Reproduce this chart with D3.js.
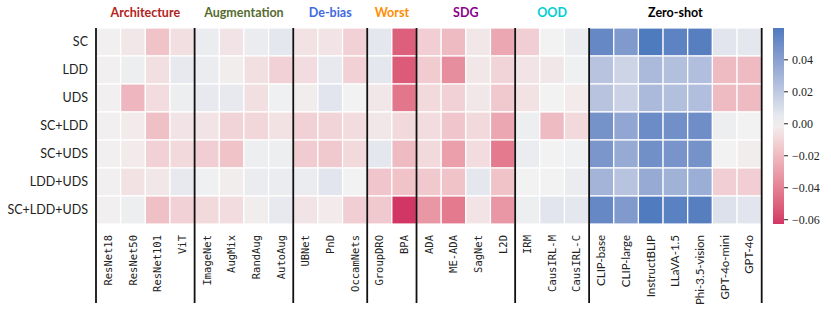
<!DOCTYPE html>
<html>
<head>
    <meta charset="utf-8">
    <title>D3 Heatmap</title>
    <script src="https://d3js.org/d3.v7.min.js"></script>
    <style>
        body { margin: 0; background: #fff; }
        .row-label { font-family: Lato, "Open Sans", sans-serif; font-size: 12.5px; fill: #222; }
        .col-label { font-family: "DejaVu Sans Mono", monospace; font-size: 10.5px; fill: #222; }
        .col-label.sans { font-family: Lato, "Open Sans", sans-serif; font-size: 11.5px; }
        .group-title { font-family: Lato, "Open Sans", sans-serif; font-size: 12.5px; font-weight: bold; }
        .cbar text { font-family: "Liberation Serif", serif; font-size: 12px; fill: #222; }
        .cbar line { stroke: #222; }
    </style>
</head>
<body>
<svg width="831" height="312"></svg>
<script>
    // rows and columns
    var rows = ["SC", "LDD", "UDS", "SC+LDD", "SC+UDS", "LDD+UDS", "SC+LDD+UDS"];
    var methods = ["ResNet18", "ResNet50", "ResNet101", "ViT",
                   "ImageNet", "AugMix", "RandAug", "AutoAug",
                   "UBNet", "PnD", "OccamNets",
                   "GroupDRO", "BPA",
                   "ADA", "ME-ADA", "SagNet", "L2D",
                   "IRM", "CausIRL-M", "CausIRL-C",
                   "CLIP-base", "CLIP-large", "InstructBLIP", "LLaVA-1.5", "Phi-3.5-vision", "GPT-4o-mini", "GPT-4o"];
    var groups = ["Architecture", "Augmentation", "De-bias", "Worst", "SDG", "OOD", "Zero-shot"];
    var groupSizes = [4, 4, 3, 2, 4, 3, 7];
    var groupColors = ["firebrick", "darkolivegreen", "royalblue", "darkorange", "darkmagenta", "darkturquoise", "black"];

    // one array per row, values in method order
    var valSC        = [-0.001, -0.004, -0.017, -0.007, 0.003, -0.005, 0.003, 0.005, -0.006, -0.005, -0.012, 0.005, -0.052, -0.013, -0.020, -0.004, -0.027, -0.013, 0.000, 0.003, 0.052, 0.043, 0.0596, 0.055, 0.057, 0.006, 0.005];
    var valLDD       = [-0.001, 0.002, -0.007, 0.004, 0.003, -0.002, -0.007, -0.012, -0.008, 0.004, -0.012, 0.005, -0.053, -0.014, -0.036, -0.004, -0.011, -0.005, -0.004, 0.001, 0.022, 0.014, 0.027, 0.024, 0.025, -0.020, -0.020];
    var valUDS       = [-0.001, -0.022, -0.008, 0.002, 0.004, 0.004, -0.007, 0.001, -0.002, 0.006, 0.000, -0.004, -0.044, -0.009, -0.012, -0.004, -0.015, -0.006, 0.000, -0.003, 0.022, 0.015, 0.027, 0.024, 0.025, -0.020, -0.020];
    var valSCLDD     = [-0.001, -0.003, -0.018, -0.005, -0.005, -0.011, -0.010, -0.006, -0.012, -0.011, -0.008, -0.004, -0.009, -0.008, -0.016, -0.009, -0.027, 0.002, -0.020, -0.009, 0.047, 0.037, 0.050, 0.048, 0.049, 0.002, 0.000];
    var valSCUDS     = [-0.001, -0.003, -0.012, -0.009, -0.013, -0.017, 0.002, 0.002, -0.014, -0.015, -0.009, 0.005, -0.020, -0.009, -0.030, -0.008, -0.043, 0.003, 0.000, 0.001, 0.045, 0.035, 0.048, 0.046, 0.047, 0.000, -0.002];
    var valLDDUDS    = [-0.001, -0.006, -0.004, 0.004, 0.001, -0.002, 0.003, 0.003, 0.003, 0.006, 0.000, -0.016, -0.017, -0.015, -0.017, 0.005, -0.017, 0.000, 0.000, 0.003, 0.030, 0.022, 0.035, 0.031, 0.033, -0.013, -0.013];
    var valSCLDDUDS  = [-0.001, 0.002, -0.018, -0.012, -0.009, -0.008, -0.002, 0.004, -0.005, -0.003, -0.013, -0.015, -0.063, -0.033, -0.043, -0.005, -0.033, 0.002, 0.006, 0.005, 0.052, 0.043, 0.059, 0.056, 0.057, 0.008, 0.006];
    var values = [valSC, valLDD, valUDS, valSCLDD, valSCUDS, valLDDUDS, valSCLDDUDS];

    var cbarTicks = [-0.06, -0.04, -0.02, 0.00, 0.02, 0.04];
    var sansLabels = methods.slice(20);

    var svg = d3.select("svg"),
        gridLeft = 96, gridTop = 28,
        gridW = 665.7, gridH = 196;

    var x = d3.scaleBand().domain(methods).range([gridLeft, gridLeft + gridW]),
        y = d3.scaleBand().domain(rows).range([gridTop, gridTop + gridH]);

    var cells = [];
    values.forEach(function(r, i) {
        r.forEach(function(v, j) { cells.push({row: rows[i], col: methods[j], v: v}); });
    });

    var ext = d3.extent(cells, function(d) { return d.v; });
    var vr = Math.max(-ext[0], ext[1]);
    var negInt = d3.interpolateLab("rgb(210,54,100)", "rgb(242,242,242)"),
        posInt = d3.interpolateLab("rgb(242,242,242)", "rgb(66,116,187)");
    var color = function(v) {
        return v < 0 ? negInt(1 + v / vr) : posInt(v / vr);
    };

    // cells
    svg.append("g").selectAll("rect")
        .data(cells)
        .enter().append("rect")
        .attr("x", function(d) { return x(d.col); })
        .attr("y", function(d) { return y(d.row); })
        .attr("width", x.bandwidth())
        .attr("height", y.bandwidth())
        .attr("fill", function(d) { return color(d.v); })
        .attr("stroke", "#fff")
        .attr("stroke-width", 1.2);

    // row labels
    svg.append("g").selectAll("text")
        .data(rows)
        .enter().append("text")
        .attr("class", "row-label")
        .attr("x", 88)
        .attr("y", function(d) { return y(d) + y.bandwidth() / 2; })
        .attr("dy", "0.35em")
        .attr("text-anchor", "end")
        .text(function(d) { return d; });

    // column labels
    svg.append("g").selectAll("text")
        .data(methods)
        .enter().append("text")
        .attr("class", function(d) { return sansLabels.indexOf(d) >= 0 ? "col-label sans" : "col-label"; })
        .attr("transform", function(d) { return "translate(" + (x(d) + x.bandwidth() / 2) + ",235) rotate(-90)"; })
        .attr("dy", "0.35em")
        .attr("text-anchor", "end")
        .text(function(d) { return d; });

    // group separators and titles
    var starts = [0];
    groupSizes.forEach(function(n, i) { starts.push(starts[i] + n); });

    svg.append("g").selectAll("line")
        .data(starts)
        .enter().append("line")
        .attr("x1", function(s) { return gridLeft + s * x.step(); })
        .attr("x2", function(s) { return gridLeft + s * x.step(); })
        .attr("y1", gridTop)
        .attr("y2", 303)
        .attr("stroke", "#111")
        .attr("stroke-width", 1.8);

    svg.append("g").selectAll("text")
        .data(groups)
        .enter().append("text")
        .attr("class", "group-title")
        .attr("x", function(g, i) { return gridLeft + (starts[i] + groupSizes[i] / 2) * x.step(); })
        .attr("y", 17)
        .attr("text-anchor", "middle")
        .attr("fill", function(g, i) { return groupColors[i]; })
        .text(function(g) { return g; });

    // colorbar
    var cy = d3.scaleLinear().domain(ext).range([gridTop + gridH, gridTop]);
    var grad = svg.append("defs").append("linearGradient")
        .attr("id", "cbar-grad")
        .attr("x1", 0).attr("y1", 1).attr("x2", 0).attr("y2", 0);
    d3.range(0, 1.0001, 0.05).forEach(function(t) {
        grad.append("stop")
            .attr("offset", t)
            .attr("stop-color", color(ext[0] + t * (ext[1] - ext[0])));
    });

    svg.append("rect")
        .attr("x", 773)
        .attr("y", gridTop)
        .attr("width", 11)
        .attr("height", gridH)
        .attr("fill", "url(#cbar-grad)");

    svg.append("g")
        .attr("class", "cbar")
        .attr("transform", "translate(784,0)")
        .call(d3.axisRight(cy).tickValues(cbarTicks).tickSize(4).tickPadding(4).tickFormat(d3.format(".2f")))
        .call(function(g) { g.select(".domain").remove(); });
</script>
</body>
</html>
